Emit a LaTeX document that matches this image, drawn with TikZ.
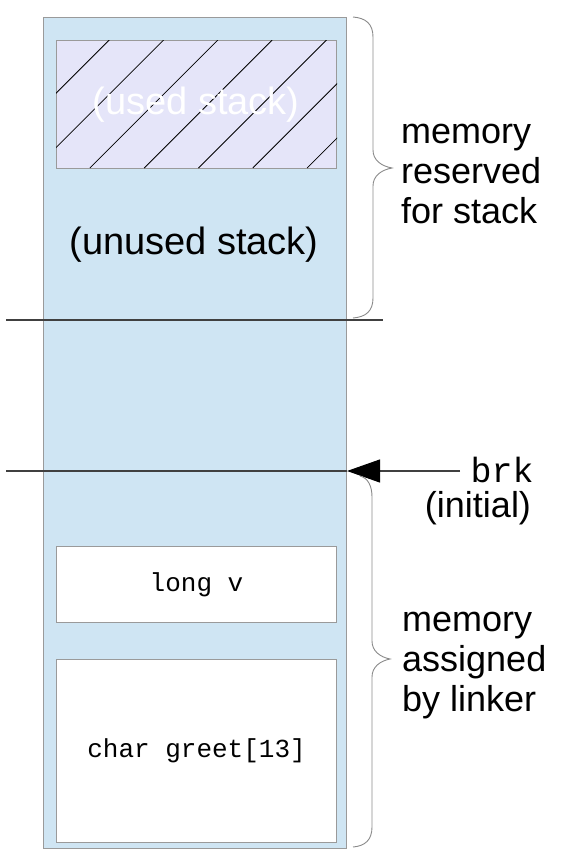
\documentclass[tikz,border=0pt]{standalone}
\usepackage{fontspec}
\setmainfont{Liberation Sans}
\setmonofont{Liberation Mono}
\usetikzlibrary{arrows.meta}
\definecolor{colfill}{HTML}{CFE5F3}
\definecolor{usedfill}{HTML}{E5E5F9}
\definecolor{edgegray}{HTML}{9A9A9A}
\definecolor{bracegray}{HTML}{8A8A8A}
\tikzset{
  colbox/.style={draw=edgegray, line width=1.3pt, fill=colfill},
  membox/.style={draw=edgegray, line width=1.1pt, fill=white, inner sep=0pt,
    font=\ttfamily\fontsize{26}{30}\selectfont},
  usedbox/.style={draw=edgegray, line width=1.1pt, fill=usedfill, inner sep=0pt},
  bigtext/.style={font=\fontsize{36}{40}\selectfont, inner sep=0pt},
  stacktext/.style={font=\fontsize{38}{42}\selectfont, inner sep=0pt},
  sideline/.style={draw=black!75, line width=1.1pt},
  bracestyle/.style={draw=bracegray, line width=0.9pt},
}
\begin{document}
\begin{tikzpicture}[x=1pt, y=-1pt]
  \useasboundingbox (0,0) rectangle (588,854);

  % memory column
  \node[colbox, minimum width=303pt, minimum height=831pt, inner sep=0pt,
        anchor=north west] (col) at (43,17) {};

  % used part of the stack, hatched
  \node[usedbox, minimum width=280pt, minimum height=128pt,
        anchor=north west] (used) at (56,40) {};
  \begin{scope}
    \clip (used.south west) rectangle (used.north east);
    \foreach \k in {-3,...,8} {
      \pgfmathsetmacro{\c}{149.3+54.3*\k}
      \draw[black, line width=0.8pt] (\c-40,40) -- (\c-168,168);
    }
  \end{scope}
  \node[stacktext, text=white] (usedlabel) at (196,105) {(used stack)};
  \node[stacktext] (unused) at (194,245) {(unused stack)};

  % variables placed by the linker
  \node[membox, minimum width=280pt, minimum height=76pt,
        anchor=north west] (longv) at (56,546) {long v};
  \node[membox, minimum width=280pt, minimum height=183pt,
        anchor=north west] (greet) at (56,659) {char greet[13]};

  % stack limit line
  \coordinate (limL) at (6,320);
  \coordinate (limR) at (383,320);
  \draw[sideline] (limL) -- (limR);

  % initial break
  \coordinate (brkL) at (6,471);
  \coordinate (brkTip) at (347,471);
  \coordinate (brkR) at (460,471);
  \draw[sideline] (brkL) -- (brkTip);
  \draw[sideline, -{Triangle[length=33pt, width=23pt, color=black, fill=black]}]
    (brkR) -- (brkTip);
  \node[inner sep=0pt, font=\ttfamily\fontsize{35}{40}\selectfont] (brk) at (502,470) {brk};
  \node[bigtext] (initial) at (478,508) {(initial)};

  % brace for the stack region
  \draw[bracestyle] (353,17) .. controls (366,18) and (373,24) .. (373,37)
    -- (373,150) .. controls (373,160) and (381,166) .. (392,168)
    .. controls (381,170) and (373,176) .. (373,186)
    -- (373,298) .. controls (373,311) and (366,317) .. (353,318);
  \node[bigtext, align=left, anchor=west] (stacktext) at (401,174)
    {memory\\reserved\\for stack};

  % brace for the linker region
  \draw[bracestyle] (360,476) .. controls (368,478) and (372,486) .. (372,497)
    -- (372,641) .. controls (372,651) and (380,657) .. (390,659)
    .. controls (380,661) and (372,667) .. (372,677)
    -- (372,827) .. controls (372,840) and (365,846) .. (353,847);
  \node[bigtext, align=left, anchor=west] (linktext) at (402,666)
    {memory\\assigned\\by linker};
\end{tikzpicture}
\end{document}
